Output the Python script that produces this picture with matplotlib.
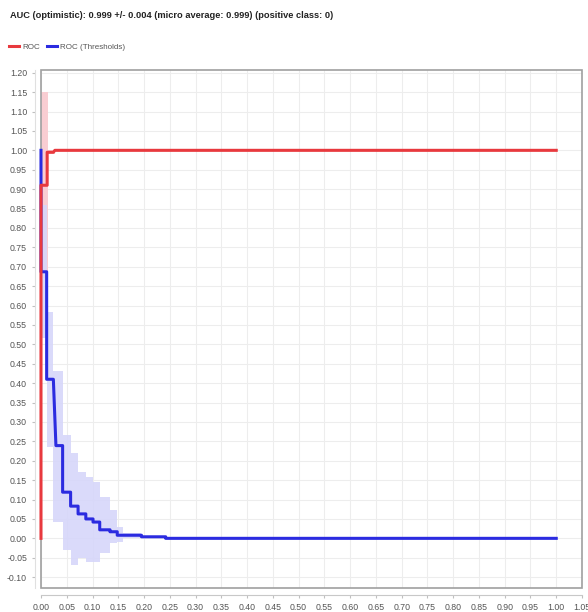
import matplotlib
matplotlib.use('Agg')
import matplotlib.pyplot as plt
from matplotlib.patches import Rectangle
import numpy as np

plt.rcParams['font.family'] = ['Liberation Sans', 'DejaVu Sans']

# ROC (mean curve), step points (fpr, tpr)
roc_x = [0.0, 0.0, 0.012, 0.012, 0.024, 0.027, 1.0]
roc_y = [0.0, 0.91, 0.91, 0.995, 0.995, 1.0, 1.0]
# ROC band (x edges, low, high)
roc_band_x = [0.0, 0.013, 0.013, 0.027]
roc_band_lo = [0.67, 0.67, 0.99, 0.99]
roc_band_hi = [1.15, 1.15, 1.0, 1.0]

# ROC (Thresholds) step curve
thr_x = [0.0, 0.0, 0.011, 0.011, 0.024, 0.029, 0.042, 0.042, 0.0575, 0.0575, 0.072, 0.072,
         0.087, 0.087, 0.101, 0.101, 0.114, 0.114, 0.134, 0.134, 0.148, 0.148, 0.195, 0.195,
         0.242, 0.242, 1.0]
thr_y = [1.0, 0.687, 0.687, 0.41, 0.41, 0.239, 0.239, 0.119, 0.119, 0.083, 0.083, 0.063,
         0.063, 0.050, 0.050, 0.042, 0.042, 0.022, 0.022, 0.017, 0.017, 0.008, 0.008, 0.004,
         0.004, 0.0, 0.0]
# Thresholds band: segment edges and bounds
thr_band_edges = [0.0, 0.011, 0.024, 0.042, 0.0575, 0.072, 0.087, 0.101, 0.114, 0.134, 0.148, 0.16, 0.195]
thr_band_lo = [0.516, 0.236, 0.043, -0.03, -0.069, -0.051, -0.06, -0.06, -0.039, -0.013, -0.01, 0.0]
thr_band_hi = [0.859, 0.584, 0.43, 0.266, 0.22, 0.172, 0.159, 0.146, 0.107, 0.073, 0.03, 0.015]

title = 'AUC (optimistic): 0.999 +/- 0.004 (micro average: 0.999) (positive class: 0)'

red = '#e8393e'
blue = '#2b2be0'

fig = plt.figure(figsize=(5.88, 6.12), dpi=100)
ax = fig.add_axes([0.0697, 0.0392, 0.9201, 0.8464])

# bands
ax.fill_between(roc_band_x, roc_band_lo, roc_band_hi, color='#f9cdd2', lw=0, zorder=1)
bx = np.repeat(thr_band_edges, 2)[1:-1]
blo = np.repeat(thr_band_lo, 2)
bhi = np.repeat(thr_band_hi, 2)
ax.fill_between(bx, blo, bhi, color='#d6d6fa', lw=0, zorder=1, alpha=0.9)

ax.plot(roc_x, roc_y, color=red, lw=2.2, label='ROC', zorder=5, clip_on=False)
ax.plot(thr_x, thr_y, color=blue, lw=2.2, label='ROC (Thresholds)', zorder=4, clip_on=False)

ax.set_xlim(0, 1.05)
ax.set_ylim(-0.128, 1.207)
xt = np.arange(0, 1.0501, 0.05)
yt = np.arange(-0.10, 1.2001, 0.05)
ax.set_xticks(xt)
ax.set_yticks(yt)
ax.set_xticklabels(['%.2f' % v for v in xt])
ax.set_yticklabels(['%.2f' % v for v in yt])
ax.grid(True, color='#ededed', lw=0.8)
ax.set_axisbelow(True)

for s in ['top', 'right']:
    ax.spines[s].set_visible(False)
ax.spines['bottom'].set_position(('outward', 5))
ax.spines['left'].set_position(('outward', 4))
ax.spines['bottom'].set_color('#c8c8c8')
ax.spines['left'].set_color('#e0e0e0')
ax.tick_params(axis='both', labelsize=6.3, colors='#c0c0c0', labelcolor='#555555', length=2, pad=4)

ax.add_patch(Rectangle((0, 0), 1, 1, transform=ax.transAxes, fill=False,
                       edgecolor='#a0a0a0', lw=1.2, clip_on=False, zorder=2))

fig.text(0.017, 0.975, title, fontsize=6.7, fontweight='bold', color='#222222', va='center')
fig.legend(loc='center left', bbox_to_anchor=(0.003, 0.923), ncol=2, frameon=False,
           fontsize=5.8, handlelength=1.3, handletextpad=0.3, columnspacing=0.9,
           labelcolor='#555555')

fig.savefig('out.png', dpi=100)
